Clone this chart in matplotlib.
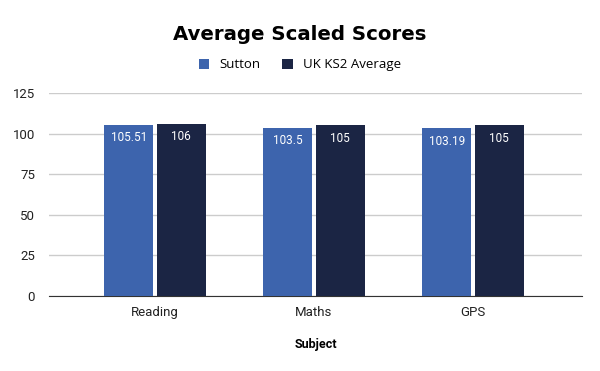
import matplotlib.pyplot as plt
import numpy as np

subjects = ['Reading', 'Maths', 'GPS']
sutton = [105.51, 103.5, 103.19]
uk_avg = [106, 105, 105]
sutton_labels = ['105.51', '103.5', '103.19']
uk_labels = ['106', '105', '105']

plt.rcParams['font.family'] = ['Roboto', 'DejaVu Sans']

fig = plt.figure(figsize=(6, 3.71), dpi=100)
ax = fig.add_axes([0.0817, 0.2022, 0.8883, 0.5471])

x = np.arange(len(subjects))
w = 0.308
off = 0.164
b1 = ax.bar(x - off, sutton, w, color='#3d64ad', zorder=3, label='Sutton')
b2 = ax.bar(x + off, uk_avg, w, color='#1b2544', zorder=3, label='UK KS2 Average')

# value labels inside the top of each bar
for bars, labels in [(b1, sutton_labels), (b2, uk_labels)]:
    for bar, lab in zip(bars, labels):
        ax.text(bar.get_x() + bar.get_width() / 2, bar.get_height() - 4, lab,
                ha='center', va='top', color='white', fontsize=8.5, zorder=4)

ax.set_xlim(-0.667, 2.686)
ax.set_ylim(0, 125)
ax.set_yticks([0, 25, 50, 75, 100, 125])
ax.set_xticks(x)
ax.set_xticklabels(subjects)
ax.grid(axis='y', color='#cccccc', linewidth=1, zorder=0)
for s in ['top', 'right', 'left']:
    ax.spines[s].set_visible(False)
ax.spines['bottom'].set_color('#333333')
ax.tick_params(axis='both', length=0, labelsize=9.5, colors='#222222')
ax.tick_params(axis='y', pad=10)
ax.tick_params(axis='x', pad=7)

ax.set_xlabel('Subject', fontsize=9, fontweight='bold', labelpad=14)
fig.text(0.5, 0.908, 'Average Scaled Scores', ha='center', va='center',
         fontsize=14.2, fontweight='bold', family='DejaVu Sans')
fig.legend(loc='center', bbox_to_anchor=(0.5, 0.825), ncol=2, frameon=False,
           fontsize=9.5, handlelength=0.8, handleheight=0.8, columnspacing=1.6,
           handletextpad=0.8, prop={'family': 'Open Sans', 'size': 9.5})

fig.savefig('out.png', dpi=100)
